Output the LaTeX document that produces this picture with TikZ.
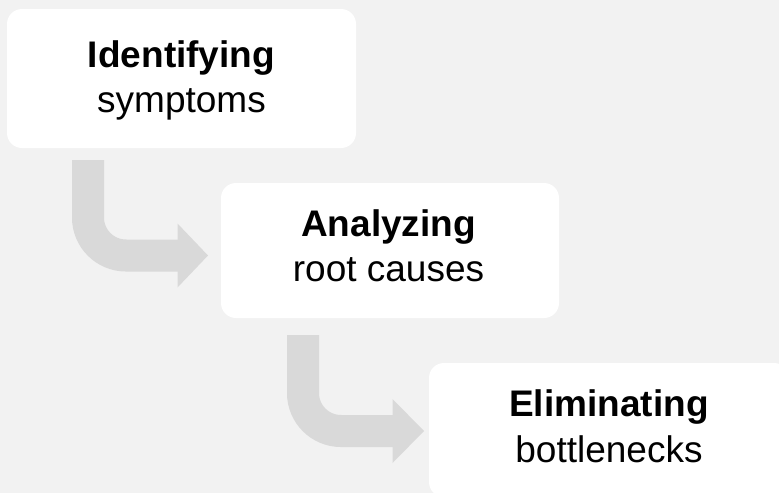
\documentclass[tikz,border=0pt]{standalone}
\usepackage{fontspec}
\setmainfont{Liberation Sans}
\definecolor{bggray}{HTML}{F2F2F2}
\definecolor{arrowgray}{HTML}{D9D9D9}
\begin{document}
\begin{tikzpicture}[x=1pt,y=-1pt,
  card/.style={fill=white, draw=none, rounded corners=15pt, inner sep=0pt},
  title/.style={anchor=base, inner sep=0pt, font=\fontsize{37}{45}\selectfont\bfseries},
  sub/.style={anchor=base, inner sep=0pt, font=\fontsize{37}{45}\selectfont},
  elbowshaft/.style={draw=arrowgray, line width=32pt, rounded corners=38pt},
  elbowhead/.style={fill=arrowgray, draw=none}]
\useasboundingbox (0,0) rectangle (779,493);
\clip (0,0) rectangle (779,493);
\fill[bggray] (0,0) rectangle (779,493);
% cards
\node[card, minimum width=349pt, minimum height=139pt] (b1) at (181.5,78.5) {};
\node[card, minimum width=338pt, minimum height=135pt] (b2) at (390,250.5) {};
\node[card, minimum width=360pt, minimum height=134pt] (b3) at (609,430) {};
% texts
\node[title] (t1) at (181.5,67) {Identifying};
\node[sub] (s1) at (181.5,112) {symptoms};
\node[title] (t2) at (388.5,236.5) {Analyzing};
\node[sub] (s2) at (388.5,281.5) {root causes};
\node[title] (t3) at (609,416.5) {Eliminating};
\node[sub] (s3) at (609,462) {bottlenecks};
% arrow 1
\coordinate (a1s) at (88,160);
\coordinate (a1c) at (88,255.5);
\coordinate (a1b) at (177.5,255.5);
\coordinate (a1e) at (188,255.5);
\coordinate (a1t) at (208,255.5);
\draw[elbowshaft] (a1s) -- (a1c) -- (a1e);
\fill[elbowhead] ([yshift=-32pt]a1b) -- (a1t) -- ([yshift=32pt]a1b) -- cycle;
% arrow 2
\coordinate (a2s) at (303,335);
\coordinate (a2c) at (303,431);
\coordinate (a2b) at (392.5,431);
\coordinate (a2e) at (403,431);
\coordinate (a2t) at (424,431);
\draw[elbowshaft] (a2s) -- (a2c) -- (a2e);
\fill[elbowhead] ([yshift=-32pt]a2b) -- (a2t) -- ([yshift=32pt]a2b) -- cycle;
\end{tikzpicture}
\end{document}
